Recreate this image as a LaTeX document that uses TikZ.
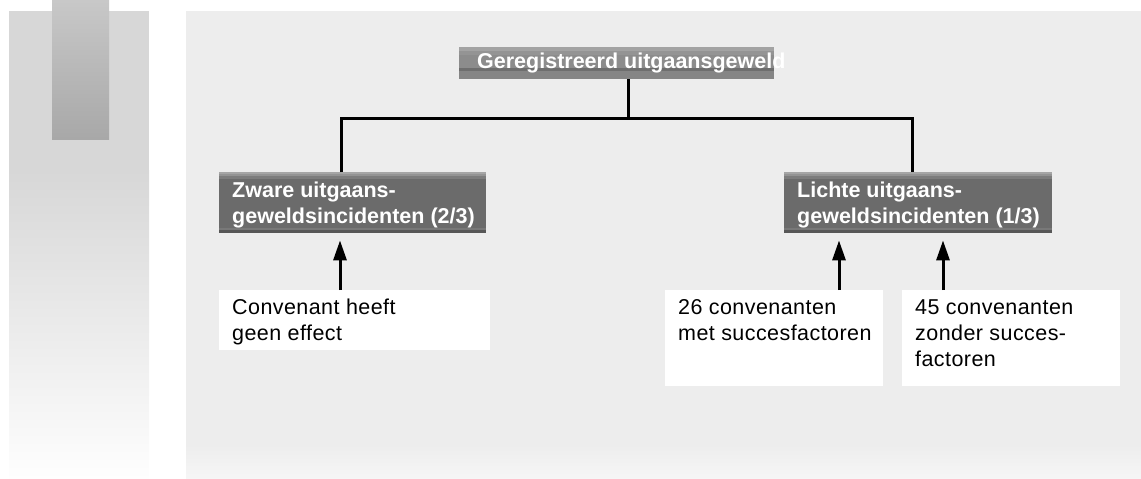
\documentclass[tikz,border=0pt]{standalone}
\usepackage{fontspec}
\setmainfont{Liberation Sans}
\newfontfamily\bodyfont[LetterSpace=2]{Liberation Sans}
\usetikzlibrary{arrows.meta,calc}

\definecolor{panelgray}{HTML}{EDEDED}
\definecolor{panelfade}{HTML}{F6F6F6}
\definecolor{sidegray}{HTML}{D7D7D7}
\definecolor{sidefade}{HTML}{FEFEFE}
\definecolor{tabtop}{HTML}{C8C8C8}
\definecolor{tabbottom}{HTML}{A8A8A8}
\definecolor{darkmain}{HTML}{6B6B6B}
\definecolor{titlemain}{HTML}{8C8C8C}

\tikzset{
  headbox/.style={rectangle, inner sep=0pt, anchor=north west, draw=none},
  darkbox/.style={headbox, fill=darkmain,
    path picture={
      \fill[black!35] (path picture bounding box.north west) rectangle ([yshift=-2pt]path picture bounding box.north east);
      \fill[black!42] ([yshift=-2pt]path picture bounding box.north west) rectangle ([yshift=-4pt]path picture bounding box.north east);
      \fill[black!51] ([yshift=-4pt]path picture bounding box.north west) rectangle ([yshift=-7pt]path picture bounding box.north east);
      \fill[black!53] ([yshift=5pt]path picture bounding box.south west) rectangle ([yshift=3pt]path picture bounding box.south east);
      \fill[black!66] ([yshift=3pt]path picture bounding box.south west) rectangle (path picture bounding box.south east);
    }},
  titlebox/.style={headbox, fill=titlemain,
    path picture={
      \fill[black!36] (path picture bounding box.north west) rectangle ([yshift=-4pt]path picture bounding box.north east);
      \fill[black!42] ([yshift=-4pt]path picture bounding box.north west) rectangle ([yshift=-8pt]path picture bounding box.north east);
      \fill[black!57] ([yshift=11pt]path picture bounding box.south west) rectangle ([yshift=8pt]path picture bounding box.south east);
      \fill[black!48] ([yshift=8pt]path picture bounding box.south west) rectangle (path picture bounding box.south east);
    }},
  notebox/.style={rectangle, inner sep=0pt, anchor=north west, fill=white, draw=none},
  headtext/.style={anchor=base west, inner sep=0pt, text=white,
    font=\fontsize{21.5}{26}\selectfont\bfseries},
  notetext/.style={anchor=base west, inner sep=0pt, text=black,
    font=\bodyfont\fontsize{21.5}{26}\selectfont},
  link/.style={draw=black, line width=3pt, line join=miter},
  arr/.style={draw=black, line width=3pt, shorten >=7pt,
    -{Triangle[length=20pt,width=13pt]}},
}

\begin{document}
\begin{tikzpicture}[x=1pt,y=-1pt]
\useasboundingbox (0,0) rectangle (1141,479);

% side strip with its darker tab
\fill[sidegray] (9,11) rectangle (149,170);
\shade[top color=sidegray, bottom color=sidefade] (9,170) rectangle (149,479);
\shade[top color=tabtop, bottom color=tabbottom] (52,0) rectangle (109,139);

% main panel
\fill[panelgray] (186,11) rectangle (1141,445);
\shade[top color=panelgray, bottom color=panelfade] (186,445) rectangle (1141,479);

% header boxes
\node[titlebox, minimum width=315pt, minimum height=32pt] (title) at (459,47) {};
\node[darkbox, minimum width=267pt, minimum height=61pt] (zware) at (219,172) {};
\node[darkbox, minimum width=268pt, minimum height=61pt] (licht) at (784,172) {};

\node[headtext] (titletxt) at (477,68) {Geregistreerd uitgaansgeweld};
\node[headtext] (zwaretxt) at (232,197)
  {\parbox[t]{300pt}{\raggedright Zware uitgaans-\\geweldsincidenten (2/3)}};
\node[headtext] (lichttxt) at (797,197)
  {\parbox[t]{300pt}{\raggedright Lichte uitgaans-\\geweldsincidenten (1/3)}};

% note boxes
\node[notebox, minimum width=271pt, minimum height=60pt] (conv) at (219,290) {};
\node[notebox, minimum width=218pt, minimum height=96pt] (c26) at (665,290) {};
\node[notebox, minimum width=218pt, minimum height=96pt] (c45) at (902,290) {};

\node[notetext] (convtxt) at (232,314)
  {\parbox[t]{260pt}{\raggedright Convenant heeft\\geen effect}};
\node[notetext] (c26txt) at (678,314)
  {\parbox[t]{260pt}{\raggedright 26 convenanten\\met succesfactoren}};
\node[notetext] (c45txt) at (915,314)
  {\parbox[t]{260pt}{\raggedright 45 convenanten\\zonder succes-\\factoren}};

% tree connectors
\coordinate (jt) at (628,118.5);
\coordinate (jl) at (341,118.5);
\coordinate (jr) at (912,118.5);
\draw[link] (title.south -| jt) -- (jt);
\draw[link] (zware.north -| jl) -- (jl) -- (jr) -- (licht.north -| jr);

% arrows from the notes
\coordinate (xa) at (340,0);
\coordinate (xb) at (839,0);
\coordinate (xc) at (943,0);
\draw[arr] (conv.north -| xa) -- (zware.south -| xa);
\draw[arr] (c26.north -| xb) -- (licht.south -| xb);
\draw[arr] (c45.north -| xc) -- (licht.south -| xc);
\end{tikzpicture}
\end{document}
